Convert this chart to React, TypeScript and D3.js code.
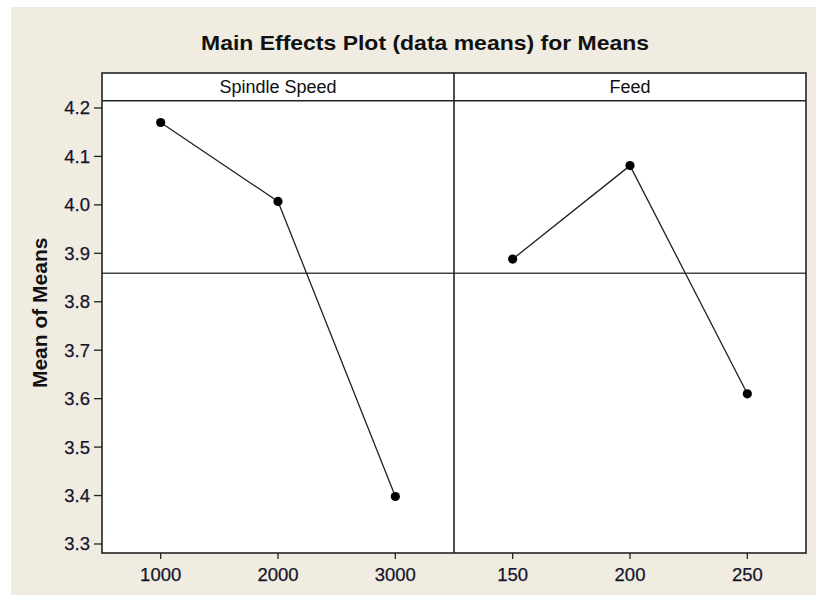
import * as d3 from "d3";

// values
const spindleLevels = ["1000", "2000", "3000"];
const spindleMeans = [4.17, 4.007, 3.398];
const feedLevels = ["150", "200", "250"];
const feedMeans = [3.888, 4.081, 3.61];
const yTicks = [3.3, 3.4, 3.5, 3.6, 3.7, 3.8, 3.9, 4.0, 4.1, 4.2];

const W = 816;
const H = 595;
const FONT = "'Liberation Sans', Arial, sans-serif";

function App() {
    const margin = { top: 73, bottom: 42, left: 102, right: 10 };
    const headerH = 27.7;
    const plotTop = margin.top + headerH;
    const plotBottom = H - margin.bottom;
    const plotRight = W - margin.right;
    const mid = (margin.left + plotRight) / 2;

    const panels = [
        { name: "Spindle Speed", levels: spindleLevels, means: spindleMeans, x0: margin.left, x1: mid },
        { name: "Feed", levels: feedLevels, means: feedMeans, x0: mid, x1: plotRight },
    ];

    // y axis
    const yScale = d3.scaleLinear().domain([3.2814, 4.215]).range([plotBottom, plotTop]);
    const grandMean = d3.mean(spindleMeans.concat(feedMeans)) as number;

    return (
        <div style={{ position: "absolute", left: 0, top: 0 }}>
            <svg width={W} height={H} style={{ display: "block" }}>
                <rect x={0} y={0} width={W} height={H} fill="#fff" />
                <rect x={11} y={7} width={W - 11} height={H - 7} fill="#f0ece2" />

                <text x={425} y={49.5} textAnchor="middle" fontFamily={FONT} fontWeight="bold"
                    fontSize={21} textLength={448} lengthAdjust="spacingAndGlyphs"
                    fill="#111">Main Effects Plot (data means) for Means</text>

                {/* white plot area with header strip */}
                <rect x={margin.left} y={margin.top} width={plotRight - margin.left}
                    height={plotBottom - margin.top} fill="#fff" />

                {/* reference line at grand mean */}
                <line x1={margin.left} x2={plotRight} y1={yScale(grandMean)} y2={yScale(grandMean)}
                    stroke="#444" strokeWidth={1.5} />

                {panels.map((p) => {
                    const xScale = d3.scalePoint<string>().domain(p.levels).range([p.x0, p.x1]).padding(0.5);
                    const pts = p.levels.map((l, i) => [xScale(l) as number, yScale(p.means[i])] as [number, number]);
                    const line = d3.line();
                    return (
                        <g key={p.name}>
                            <text x={(p.x0 + p.x1) / 2} y={92.5} textAnchor="middle" fontFamily={FONT}
                                fontSize={18} fill="#111">{p.name}</text>
                            <path d={line(pts) || ""} fill="none" stroke="#222" strokeWidth={1.3} />
                            {pts.map((d, i) => (
                                <circle key={i} cx={d[0]} cy={d[1]} r={4.6} fill="#000" />
                            ))}
                            {p.levels.map((l) => (
                                <g key={l} transform={`translate(${xScale(l)},${plotBottom})`}>
                                    <line y1={0} y2={6} stroke="#222" strokeWidth={1.3} />
                                    <text y={27.5} textAnchor="middle" fontFamily={FONT} fontSize={18.5}
                                        fill="#15152a" stroke="#15152a" strokeWidth={0.25}>{l}</text>
                                </g>
                            ))}
                        </g>
                    );
                })}

                {/* y ticks */}
                {yTicks.map((t) => (
                    <g key={t} transform={`translate(${margin.left},${yScale(t)})`}>
                        <line x1={-8} x2={0} stroke="#222" strokeWidth={1.3} />
                        <text x={-12} dy="0.35em" textAnchor="end" fontFamily={FONT} fontSize={18.5}
                            fill="#15152a" stroke="#15152a" strokeWidth={0.25}>{t.toFixed(1)}</text>
                    </g>
                ))}

                <text transform={`translate(47,${(plotTop + plotBottom) / 2 - 14}) rotate(-90)`}
                    textAnchor="middle" fontFamily={FONT} fontWeight="bold" fontSize={21}
                    fill="#111">Mean of Means</text>

                {/* frame, header and panel divider */}
                <rect x={margin.left} y={margin.top} width={plotRight - margin.left}
                    height={plotBottom - margin.top} fill="none" stroke="#222" strokeWidth={1.6} />
                <line x1={margin.left} x2={plotRight} y1={plotTop} y2={plotTop} stroke="#222" strokeWidth={1.6} />
                <line x1={mid} x2={mid} y1={margin.top} y2={plotBottom} stroke="#222" strokeWidth={1.6} />
            </svg>
        </div>
    );
}

export default App;
